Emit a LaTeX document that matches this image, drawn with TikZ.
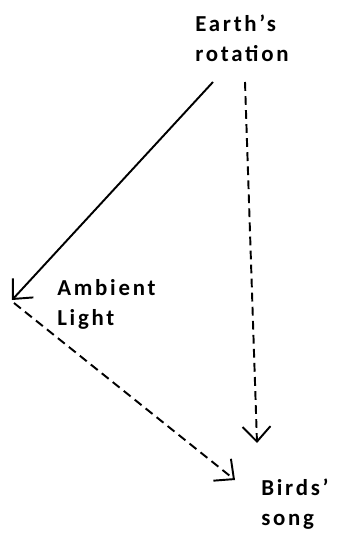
\documentclass[tikz,border=0pt]{standalone}
\usepackage{fontspec}
\setmainfont{Carlito}[LetterSpace=12]
\usetikzlibrary{arrows.meta}

\begin{document}
\begin{tikzpicture}[x=0.02cm, y=-0.02cm,
    every node/.style={font=\bfseries\fontsize{13}{17}\selectfont, inner sep=0pt, align=left, anchor=north west},
    cause/.style={line width=1.1pt, -{Straight Barb[length=3mm, width=5.6mm, line width=1.1pt]}},
    weak/.style={cause, dash pattern=on 5pt off 3pt}]
    \useasboundingbox (0,0) rectangle (337,536);

    % Earth's rotation
    \node (earth) at (195,15) {Earth's\\rotation};
    \coordinate (earthL) at (213,82);
    \coordinate (earthR) at (245,82);

    % Ambient light
    \node (light) at (57,279) {Ambient\\Light};
    \coordinate (lightTip) at (12,300);
    \coordinate (lightOut) at (14,303);

    % Birds' song
    \node (song) at (261,479) {Birds'\\song};
    \coordinate (songTop) at (257,443);
    \coordinate (songLeft) at (235,480);

    % Arrows
    \draw[cause] (earthL) -- (lightTip);
    \draw[weak] (earthR) -- (songTop);
    \draw[weak] (lightOut) -- (songLeft);
\end{tikzpicture}
\end{document}
